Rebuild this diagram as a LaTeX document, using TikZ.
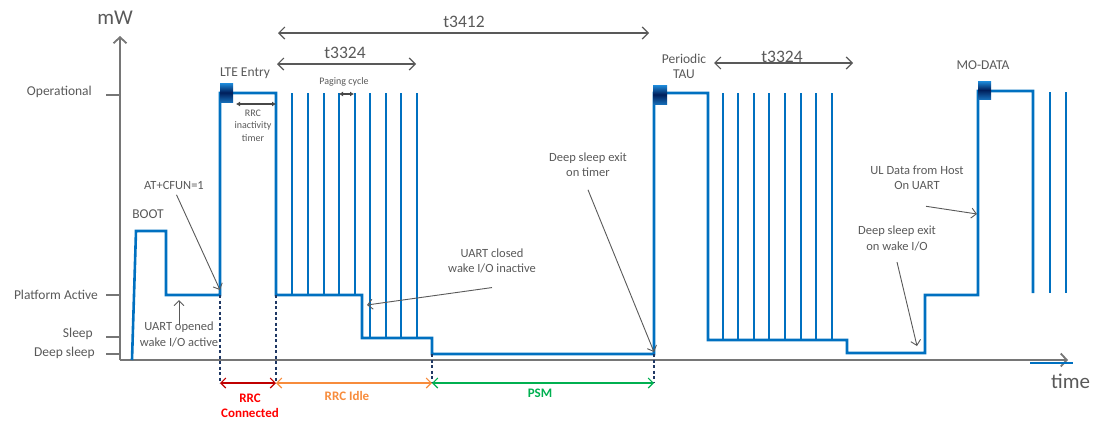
\documentclass[tikz,border=0pt]{standalone}
\usepackage{fontspec}
\setmainfont{Carlito}
\usepackage{xcolor}
\usetikzlibrary{arrows.meta}
\definecolor{wblue}{RGB}{0,112,192}
\definecolor{txtgray}{RGB}{89,89,89}
\definecolor{axgray}{RGB}{118,118,118}
\definecolor{guideblue}{RGB}{31,56,100}
\definecolor{cred}{RGB}{192,0,0}
\definecolor{tred}{RGB}{255,0,0}
\definecolor{corange}{RGB}{247,140,60}
\definecolor{cgreen}{RGB}{0,176,80}
\definecolor{mlight}{RGB}{30,140,220}
\definecolor{mdark}{RGB}{0,30,90}

\begin{document}
\begin{tikzpicture}[
  x=1pt, y=-1pt,
  lbl/.style={text=txtgray, font=\fontsize{13.5}{15}\selectfont, inner sep=0pt},
  note/.style={text=txtgray, font=\fontsize{12.5}{15.5}\selectfont, align=center, inner sep=0pt},
  tiny/.style={text=txtgray, font=\fontsize{10}{12.5}\selectfont, align=center, inner sep=0pt},
  tlbl/.style={text=txtgray, font=\fontsize{17.5}{19}\selectfont, inner sep=0pt},
  axlbl/.style={text=txtgray, font=\fontsize{21}{23}\selectfont, inner sep=0pt},
  phase/.style={font=\bfseries\fontsize{13}{15}\selectfont, align=center, inner sep=0pt},
  wave/.style={wblue, line width=2.6pt},
  axis/.style={axgray, line width=1.8pt, -{Straight Barb[length=6pt,width=13pt]}},
  tick/.style={axgray, line width=1.3pt},
  ptr/.style={txtgray, line width=0.9pt, -{Straight Barb[length=5pt,width=10pt]}},
  span/.style={txtgray, line width=1.2pt, {Straight Barb[length=6pt,width=12pt]}-{Straight Barb[length=6pt,width=12pt]}},
  small span/.style={txtgray!80!black, line width=1.4pt, {Latex[length=4pt,width=5pt]}-{Latex[length=4pt,width=5pt]}},
  guide/.style={guideblue, line width=1.1pt, dash pattern=on 3pt off 2.5pt},
  ph/.style={line width=1.1pt, {Straight Barb[length=5pt,width=10pt]}-{Straight Barb[length=5pt,width=10pt]}},
  marker/.style={minimum width=13pt, minimum height=19pt, inner sep=0pt, top color=mlight, bottom color=mlight!70!mdark, middle color=mdark}
]
\useasboundingbox (0,0) rectangle (1096,421);

\coordinate (o) at (120,360);
\coordinate (ytop) at (120,36);
\coordinate (xend) at (1068,360);
\draw[axis] (o) -- (ytop);
\draw[axis] (o) -- (xend);
\draw[wblue, line width=2.2pt] (1030,363) -- (1073,363);
\node[axlbl] (mw) at (115,18) {mW};
\node[axlbl, anchor=west] (time) at (1051,381) {time};

\node[lbl, anchor=base east] (lop) at (92,95) {Operational};
\node[lbl, anchor=base east] (lpa) at (98,299) {Platform Active};
\node[lbl, anchor=base east] (lsl) at (93,337.5) {Sleep};
\node[lbl, anchor=base east] (lds) at (95,356) {Deep sleep};
\draw[tick] (106,95) -- (120,95);
\draw[tick] (106,295) -- (120,295);
\draw[tick] (106,337) -- (120,337);
\draw[tick] (106,354) -- (120,354);

\draw[wave] (132,360) -- (136,231) -- (166,231) -- (166,295) -- (220,295) -- (220,93) -- (276,93)
  -- (276,295) -- (362,295) -- (362,338) -- (432,338) -- (432,354) -- (654,354) -- (654,93)
  -- (708,93) -- (708,340) -- (847,340) -- (847,353) -- (925,353) -- (925,295) -- (978,295)
  -- (978,91) -- (1033,91) -- (1033,293);
\foreach \x in {292,308,324,339,355}
  \draw[wave] (\x,93) -- (\x,295);
\foreach \x in {370,386,401,417}
  \draw[wave] (\x,93) -- (\x,338);
\foreach \x in {723,738,754,769,785,801,816,832}
  \draw[wave] (\x,93) -- (\x,340);
\foreach \x in {1050,1066}
  \draw[wave] (\x,92) -- (\x,293);

\node[marker] (lte) at (226.5,92.5) {};
\node[marker, minimum width=14pt] (tau) at (660,94.5) {};
\node[marker, minimum height=18pt] (mo) at (984.5,90) {};

\node[lbl] (ltelbl) at (245,73) {LTE Entry};
\node[lbl, align=center] (taulbl) at (684,66) {Periodic\\TAU};
\node[lbl] (molbl) at (983,65) {MO-DATA};
\node[lbl] (boot) at (148,214) {BOOT};

\coordinate (t12a) at (278,33);
\coordinate (t12b) at (649,33);
\draw[span] (t12a) -- (t12b);
\node[tlbl] (t3412) at (464,22) {t3412};
\coordinate (t24a) at (277,64);
\coordinate (t24b) at (416,64);
\draw[span] (t24a) -- (t24b);
\node[tlbl] (t3324a) at (345,53) {t3324};
\coordinate (t24c) at (714,63);
\coordinate (t24d) at (853,63);
\draw[span] (t24c) -- (t24d);
\node[tlbl] (t3324b) at (782,57) {t3324};

\coordinate (ina) at (236,104);
\coordinate (inb) at (276,104);
\draw[small span] (ina) -- (inb);
\node[tiny] (inact) at (253,125.5) {RRC\\inactivity\\timer};
\coordinate (pga) at (339,94);
\coordinate (pgb) at (354,94);
\draw[small span] (pga) -- (pgb);
\node[tiny] (paging) at (344,82) {Paging cycle};

\node[note] (cfun) at (174,185) {AT+CFUN=1};
\coordinate (cfunend) at (220,290);
\draw[ptr, shorten <=6pt] (cfun.south) -- (cfunend);
\node[note] (uopen) at (179,334.5) {UART opened\\wake I/O active};
\coordinate (uopenend) at (179,300);
\draw[ptr] ([yshift=-3pt]uopen.north) -- (uopenend);
\node[note] (uclose) at (492,261) {UART closed\\wake I/O inactive};
\coordinate (ucloseend) at (367,305);
\draw[ptr] ([yshift=-14pt]uclose.south) -- (ucloseend);
\node[note] (dstimer) at (588,164.5) {Deep sleep exit\\on timer};
\coordinate (dstimerend) at (654,352);
\draw[ptr] ([yshift=-13pt]dstimer.south) -- (dstimerend);
\node[note] (dswake) at (897,238.5) {Deep sleep exit\\on wake I/O};
\coordinate (dswakeend) at (917,346);
\draw[ptr] ([yshift=-11pt]dswake.south) -- (dswakeend);
\node[note] (uldata) at (917,178) {UL Data from Host\\On UART};
\coordinate (uldataend) at (977,214);
\draw[ptr] ([xshift=9pt,yshift=-16pt]uldata.south) -- (uldataend);

\coordinate (g1) at (220,383);
\coordinate (g2) at (276,383);
\coordinate (g3) at (432,383);
\coordinate (g4) at (654,383);
\draw[guide] (220,295) -- (g1);
\draw[guide] (276,295) -- (g2);
\draw[guide] (432,354) -- (g3);
\draw[guide] (654,354) -- (g4);
\draw[ph, cred] (g1) -- (g2);
\draw[ph, corange] (g2) -- (g3);
\draw[ph, cgreen] (g3) -- (g4);
\node[phase, text=tred] (rrcc) at (250,406) {RRC\\Connected};
\node[phase, text=corange] (rrci) at (347,396) {RRC Idle};
\node[phase, text=cgreen] (psm) at (540,393) {PSM};
\end{tikzpicture}
\end{document}
